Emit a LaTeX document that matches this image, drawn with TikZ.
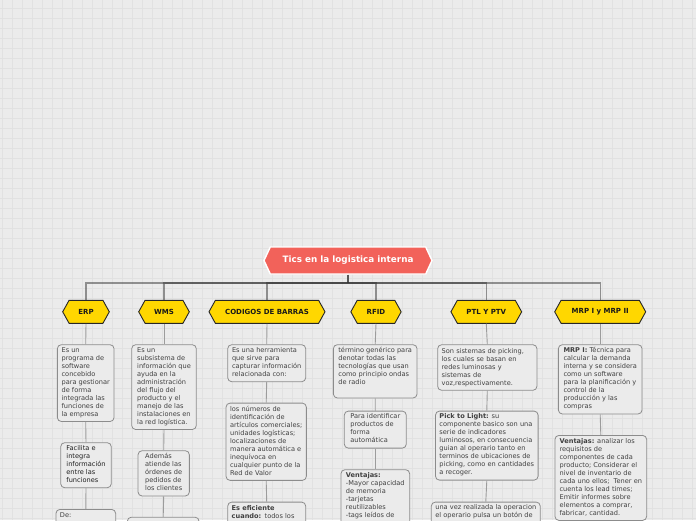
\documentclass[tikz,border=0pt]{standalone}
\usepackage{fontspec}
\setmainfont{DejaVu Sans}
\usetikzlibrary{shapes.symbols}
\definecolor{bg}{HTML}{EBEBEB}
\definecolor{gridc}{HTML}{E1E1E1}
\definecolor{rootc}{HTML}{F2625A}
\definecolor{hexc}{HTML}{FFD700}
\definecolor{boxline}{HTML}{8C8C8C}
\definecolor{txt}{HTML}{404040}
\definecolor{txtdark}{HTML}{1E1E1E}
\definecolor{linkc}{HTML}{9C9C9C}
\definecolor{busc}{HTML}{333333}
\definecolor{stemc}{HTML}{555555}
\begin{document}
\begin{tikzpicture}[x=1pt,y=-1pt,
  rootnode/.style={signal, signal to=east and west, signal pointer angle=130, fill=rootc, draw=white, line width=1.4pt, text=white, font=\fontsize{8.8}{10}\selectfont\bfseries, minimum height=27pt, minimum width=168pt, inner sep=0pt},
  hexnode/.style={signal, signal to=east and west, signal pointer angle=122, fill=hexc, draw=black!85, line width=0.9pt, text=black!90, font=\fontsize{7}{8}\selectfont\bfseries, minimum height=23pt, inner sep=0pt},
  infobox/.style={draw=boxline, fill=bg, rounded corners=4pt, line width=0.8pt, align=left, text=txt, font=\fontsize{6.6}{8}\selectfont, inner xsep=4pt, inner ysep=2.8pt, anchor=north, execute at begin node=\strut, execute at end node=\strut},
  stem/.style={draw=stemc, line width=1.3pt},
  bus/.style={draw=busc, draw opacity=0.5, line width=1.3pt},
  link/.style={draw=linkc, line width=0.9pt},
]
\useasboundingbox (0,0) rectangle (696,520);
\clip (0,0) rectangle (696,520);
\fill[bg] (0,0) rectangle (696,520);
\foreach \i in {0,...,69} \draw[gridc, line width=0.7pt] (2.7+10*\i,0) -- (2.7+10*\i,520);
\foreach \j in {0,...,51} \draw[gridc, line width=0.7pt] (0,8.3+10*\j) -- (696,8.3+10*\j);

% root and main topics
\node[rootnode] (root) at (348,260.5) {Tics en la logistica interna};
\node[hexnode, minimum width=46.6pt] (erp) at (86,311.8) {ERP};
\node[hexnode, minimum width=50.6pt] (wms) at (164,311.8) {WMS};
\node[hexnode, minimum width=116pt] (cod) at (267,311.8) {CODIGOS DE BARRAS};
\node[hexnode, minimum width=50.3pt] (rfid) at (376,311.8) {RFID};
\node[hexnode, minimum width=70.7pt] (ptl) at (486.3,311.8) {PTL Y PTV};
\node[hexnode, minimum width=91pt] (mrp) at (600.2,311.8) {MRP I y MRP II};

\coordinate (hub) at (348,283);
\draw[stem] (root.south) -- (hub);
\foreach \c in {erp,wms,cod,rfid,ptl,mrp}
  \draw[bus] (hub) -| (\c.north);

% ERP
\node[infobox, minimum width=56.7pt] (erpA) at (85.7,344.3) {Es un\\programa de\\software\\concebido\\para gestionar\\de forma\\integrada las\\funciones de\\la empresa};
\node[infobox, minimum width=50.6pt, text=txtdark] (erpB) at (86,442.3) {Facilita e\\integra\\información\\entre las\\funciones};
\node[infobox, text width=51.7pt] (erpC) at (85.8,509) {De:\\[30pt]~};
% WMS
\node[infobox, minimum width=64.6pt] (wmsA) at (164,344.3) {Es un\\subsistema de\\información que\\ayuda en la\\administración\\del flujo del\\producto y el\\manejo de las\\instalaciones en\\la red logística.};
\node[infobox, minimum width=51.3pt] (wmsB) at (163.7,450.3) {Además\\atiende las\\órdenes de\\pedidos de\\los clientes};
\node[infobox, text width=63.7pt] (wmsC) at (163.2,516.8) {~\\[30pt]~};
% CODIGOS
\node[infobox, minimum width=78pt] (codA) at (266.7,344.3) {Es una herramienta\\que sirve para\\capturar información\\relacionada con:};
\node[infobox, minimum width=80.3pt] (codB) at (266.2,402.7) {los números de\\identificación de\\artículos comerciales;\\unidades logísticas;\\localizaciones de\\manera automática e\\inequívoca en\\cualquier punto de la\\Red de Valor};
\node[infobox, text width=70pt] (codC) at (266.7,501.7) {\textbf{Es eficiente}\\\textbf{cuando:} todos los\\[30pt]~};
% RFID
\node[infobox, minimum width=83.7pt] (rfidA) at (375.2,344.3) {término genérico para\\denotar todas las\\tecnologías que usan\\como principio ondas\\de radio\\~};
\node[infobox, minimum width=62pt] (rfidB) at (375.3,410.7) {Para identificar\\productos de\\forma\\automática};
\node[infobox, minimum width=68.7pt] (rfidC) at (375.3,469.3) {\textbf{Ventajas:}\\-Mayor capacidad\\de memoria\\-tarjetas\\reutilizables\\-tags leídos de\\[30pt]~};
% PTL
\node[infobox, text width=91.3pt] (ptlA) at (487.3,344.3) {Son sistemas de picking,\\los cuales se basan en\\redes luminosas y\\sistemas de\\voz,respectivamente.};
\node[infobox, minimum width=101.7pt] (ptlB) at (486.8,410.7) {\textbf{Pick to Light:} su\\componente basico son una\\serie de indicadores\\luminosos, en consecuencia\\guian al operario tanto en\\terminos de ubicaciones de\\picking, como en cantidades\\a recoger.};
\node[infobox, minimum width=108.3pt] (ptlC) at (485.8,501.7) {una vez realizada la operacion\\el operario pulsa un botón de\\[30pt]~};
% MRP
\node[infobox, minimum width=83.7pt] (mrpA) at (600.2,344.3) {\textbf{MRP I:} Técnica para\\calcular la demanda\\interna y se considera\\como un software\\para la planificación y\\control de la\\producción y las\\compras};
\node[infobox, minimum width=91.7pt] (mrpB) at (600.8,435) {\textbf{Ventajas:} analizar los\\requisitos de\\componentes de cada\\producto; Considerar el\\nivel de inventario de\\cada uno ellos;~ Tener en\\cuenta los lead times;\\Emitir informes sobre\\elementos a comprar,\\fabricar, cantidad.};

% links
\draw[link] (erp.south) -- (erpA.north);
\draw[link] (erpA.south) -- (erpB.north);
\draw[link] (erpB.south) -- (erpC.north);
\draw[link] (wms.south) -- (wmsA.north);
\draw[link] (wmsA.south) -- (wmsB.north);
\draw[link] (wmsB.south) -- (wmsC.north);
\draw[link] (cod.south) -- (codA.north);
\draw[link] (codA.south) -- (codB.north);
\draw[link] (codB.south) -- (codC.north);
\draw[link] (rfid.south) -- (rfidA.north);
\draw[link] (rfidA.south) -- (rfidB.north);
\draw[link] (rfidB.south) -- (rfidC.north);
\draw[link] (ptl.south) -- (ptlA.north);
\draw[link] (ptlA.south) -- (ptlB.north);
\draw[link] (ptlB.south) -- (ptlC.north);
\draw[link] (mrp.south) -- (mrpA.north);
\draw[link] (mrpA.south) -- (mrpB.north);
\end{tikzpicture}
\end{document}
